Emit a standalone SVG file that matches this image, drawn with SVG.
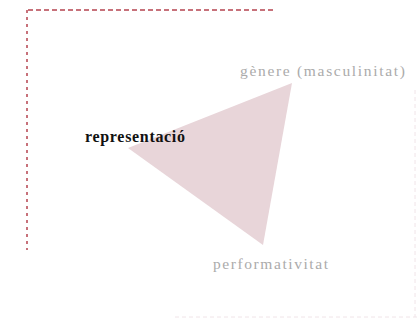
<svg xmlns="http://www.w3.org/2000/svg" width="418" height="320" viewBox="0 0 418 320">
<style>
.frame{fill:none;stroke:#b5434f;stroke-width:1.5;stroke-dasharray:5 3}
.frame-v{fill:none;stroke:#b5434f;stroke-width:1.5;stroke-dasharray:3 4}
.faint{fill:none;stroke:#f0e4e8;stroke-width:1;stroke-dasharray:4 3}
.lbl{font-family:"Liberation Serif","DejaVu Serif",serif;font-size:15.5px;fill:#ababab}
.main{font-family:"Liberation Serif","DejaVu Serif",serif;font-size:16px;font-weight:bold;fill:#111111}
</style>
<rect width="418" height="320" fill="#ffffff"/>
<g id="frame">
<line class="frame" x1="28" y1="10" x2="274" y2="10"/>
<line class="frame-v" x1="27" y1="10" x2="27" y2="250"/>
<line class="faint" x1="175" y1="317" x2="418" y2="317"/>
<line class="faint" x1="415" y1="90" x2="415" y2="317"/>
</g>
<g id="triangle">
<polygon points="292,83 128,148 263,245" fill="#e8d5d9"/>
</g>
<g id="representacio">
<text class="main" x="85" y="142" textLength="100" lengthAdjust="spacing">representació</text>
</g>
<g id="genere">
<text class="lbl" x="240" y="76" textLength="165" lengthAdjust="spacing">gènere (masculinitat)</text>
</g>
<g id="performativitat">
<text class="lbl" x="213" y="269" textLength="115" lengthAdjust="spacing">performativitat</text>
</g>
</svg>
